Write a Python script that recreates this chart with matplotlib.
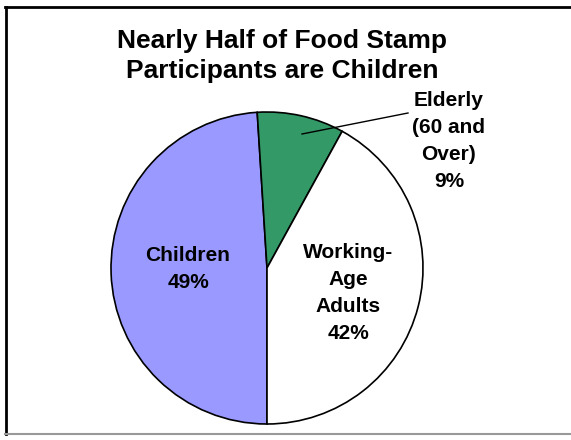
import matplotlib.pyplot as plt
from matplotlib.lines import Line2D

plt.rcParams['font.family'] = ['Liberation Sans', 'DejaVu Sans']

categories = ['Children', 'Elderly', 'Working-Age Adults']
shares = [49, 9, 42]
colors = ['#9999FF', '#339966', '#FFFFFF']
label_text = ['Children\n49%', 'Elderly\n(60 and\nOver)\n9%', 'Working-\nAge\nAdults\n42%']

W, H = 571, 440
fig = plt.figure(figsize=(W / 100, H / 100), dpi=100)

# pie centre and radius in pixels
cx, cy, r = 267, 268, 156
ax = fig.add_axes([(cx - r) / W, (H - cy - r) / H, 2 * r / W, 2 * r / H])
wedges, _ = ax.pie(shares, colors=colors, startangle=-90, counterclock=False,
                   radius=1, wedgeprops=dict(edgecolor='black', linewidth=1.2))
ax.set_xlim(-1, 1)
ax.set_ylim(-1, 1)

def px(x, y):
    # pixel coords -> data coords of the pie axes
    return (x - cx) / r, (cy - y) / r

kw = dict(ha='center', va='center', fontsize=15, fontweight='bold', linespacing=1.55)
ax.text(*px(188, 269), label_text[0], **kw)
ax.text(*px(449, 141), label_text[1], **kw)
ax.text(*px(348, 293), label_text[2], **kw)

# leader line for the elderly slice
x0, y0 = px(302, 134)
x1, y1 = px(408, 113)
ax.plot([x0, x1], [y0, y1], color='black', linewidth=1, clip_on=False)

fig.text(282 / W, 1 - 56 / H, 'Nearly Half of Food Stamp\nParticipants are Children',
         ha='center', va='center', fontsize=19, fontweight='bold', linespacing=1.32)

# chart border
fig.add_artist(Line2D([5.5 / W, 5.5 / W], [1 - 7 / H, 1 - 434 / H], color='black', linewidth=2))
fig.add_artist(Line2D([5 / W, 1], [1 - 7 / H, 1 - 7 / H], color='black', linewidth=2))
fig.add_artist(Line2D([5 / W, 1], [1 - 434 / H, 1 - 434 / H], color='#999999', linewidth=1.5))

fig.savefig('out.png', dpi=100)
